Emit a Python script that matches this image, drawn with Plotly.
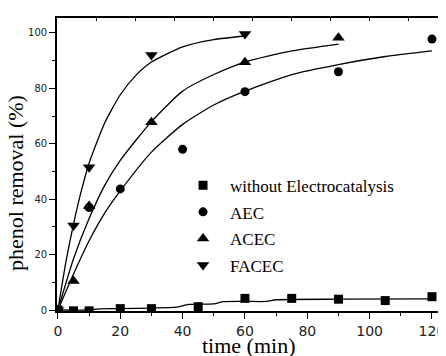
import plotly.graph_objects as go

# ---- measured data points ----
t_none = [0, 5, 10, 20, 30, 45, 60, 75, 90, 105, 120]
y_none = [0, -0.3, -0.3, 0.5, 0.5, 1.2, 4.2, 4.2, 3.9, 3.4, 4.8]

t_aec = [0, 10, 20, 40, 60, 90, 120]
y_aec = [0, 37, 43.7, 58, 78.8, 86, 97.8]

t_acec = [0, 5, 10, 30, 60, 90]
y_acec = [0, 10.5, 37.5, 67.8, 89.4, 98.3]

t_facec = [0, 5, 10, 30, 60]
y_facec = [0, 30.5, 51.5, 92, 99.6]

# ---- fitted curves ----
fit_t_none = [0, 10, 13, 20, 30, 38, 42, 50, 53, 60, 67, 70, 90, 120]
fit_y_none = [0, 0, 0.4, 0.5, 0.7, 1.0, 2.0, 2.2, 3.0, 3.1, 3.1, 3.7, 3.9, 4.0]

fit_t_aec = [0, 5, 10, 15, 20, 30, 40, 50, 60, 75, 90, 105, 120]
fit_y_aec = [0, 13, 25, 35, 43, 57, 67, 74, 79, 85, 88.6, 91.5, 93.5]

fit_t_acec = [0, 5, 10, 15, 20, 30, 40, 50, 60, 75, 90]
fit_y_acec = [0, 18.5, 33, 45, 54, 68, 79, 85, 89.5, 93.5, 96]

fit_t_facec = [0, 2.5, 5, 7.5, 10, 15, 20, 25, 30, 40, 50, 60]
fit_y_facec = [0, 17, 31, 43, 53, 67.5, 77.7, 84.7, 89.5, 95, 97.6, 98.9]

labels = ["without Electrocatalysis", "AEC", "ACEC", "FACEC"]

x_ticks = [0, 20, 40, 60, 80, 100, 120]
y_ticks = [0, 20, 40, 60, 80, 100]

fig = go.Figure()

line = dict(color="black", width=1.3)
for tx, ty in [(fit_t_facec, fit_y_facec), (fit_t_acec, fit_y_acec),
               (fit_t_aec, fit_y_aec), (fit_t_none, fit_y_none)]:
    fig.add_trace(go.Scatter(x=tx, y=ty, mode="lines", line=dict(line, shape="spline", smoothing=0.6),
                             showlegend=False, hoverinfo="skip"))

series = [
    (t_none, y_none, "square", 9),
    (t_aec, y_aec, "circle", 9),
    (t_acec, y_acec, "triangle-up", 11),
    (t_facec, y_facec, "triangle-down", 11),
]
for i, (tx, ty, sym, sz) in enumerate(series):
    fig.add_trace(go.Scatter(x=tx, y=ty, mode="markers", name=labels[i],
                             legendgroup=f"g{i}",
                             marker=dict(symbol=sym, size=sz, color="black",
                                         line=dict(width=0))))

# invisible trace to hold the top tick axis
fig.add_trace(go.Scatter(x=t_facec, y=y_facec, xaxis="x2", mode="markers",
                         marker=dict(opacity=0), showlegend=False, hoverinfo="skip"))

fig.update_layout(
    width=438, height=348,
    margin=dict(l=49, r=0, t=10, b=45),
    paper_bgcolor="white", plot_bgcolor="white",
    showlegend=True,
    legend=dict(x=0.306, y=0.489, xanchor="left", yanchor="top",
                font=dict(family="Liberation Serif", size=17, color="black"),
                itemwidth=44, tracegroupgap=1.5, bgcolor="rgba(0,0,0,0)"),
    xaxis=dict(range=[-0.3, 124.5], tickvals=x_ticks, ticks="outside", ticklen=6,
               tickwidth=1.2, tickcolor="black",
               minor=dict(dtick=10, tick0=0, ticks="outside", ticklen=3, tickcolor="black"),
               showline=True, linecolor="black", linewidth=1.6, mirror=True,
               showgrid=False, zeroline=False,
               tickfont=dict(family="DejaVu Sans", size=14, color="#222")),
    xaxis2=dict(range=[-0.3, 124.5], overlaying="x", side="top", anchor="y",
                tick0=0, dtick=12.5, ticks="inside", ticklen=3, tickcolor="black",
                showticklabels=False, showline=False, showgrid=False, zeroline=False),
    yaxis=dict(range=[-0.36, 105.4], tickvals=y_ticks, ticks="outside", ticklen=6,
               tickwidth=1.2, tickcolor="black",
               minor=dict(dtick=10, tick0=0, ticks="outside", ticklen=3, tickcolor="black"),
               showline=True, linecolor="black", linewidth=1.6, mirror=False,
               showgrid=False, zeroline=False,
               tickfont=dict(family="DejaVu Sans", size=10, color="#222")),
    annotations=[
        dict(text="time (min)", xref="paper", yref="paper", x=(248.5 - 57) / 389,
             y=-(345 - 311) / 293, showarrow=False, xanchor="center", yanchor="middle",
             font=dict(family="Liberation Serif", size=22, color="black")),
        dict(text="phenol removal (%)", xref="paper", yref="paper", x=-(57 - 16) / 389,
             y=(311 - 183) / 293, showarrow=False, xanchor="center", yanchor="middle",
             textangle=-90,
             font=dict(family="Liberation Serif", size=22, color="black")),
    ],
)

fig.write_html("out.html")
